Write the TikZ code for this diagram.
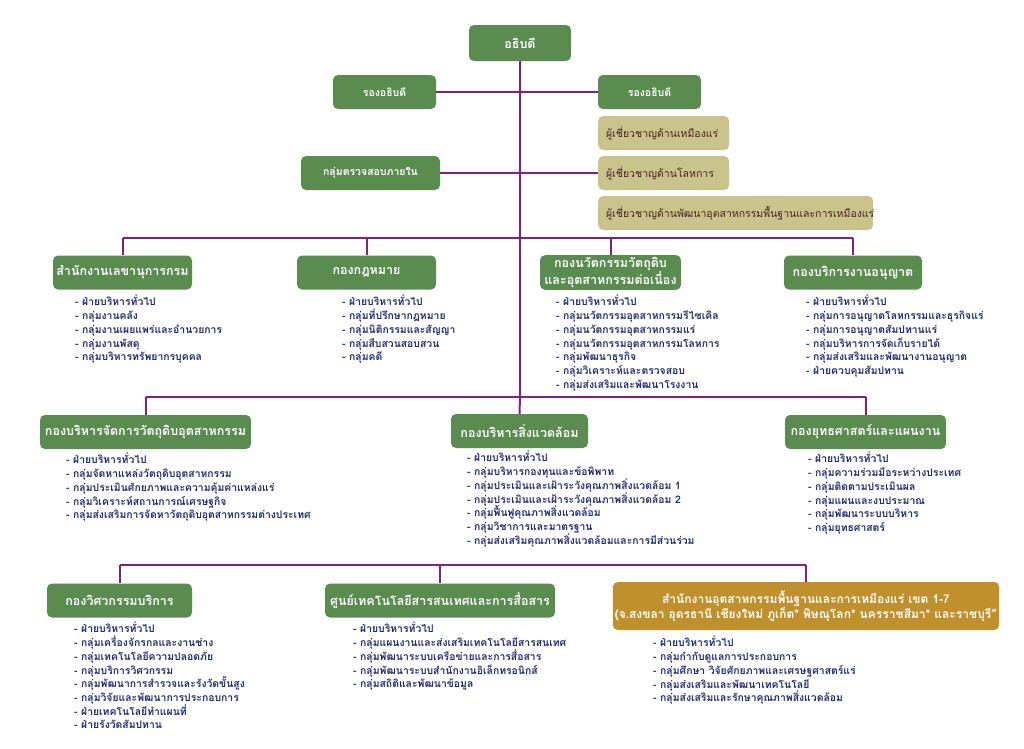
\documentclass[tikz,border=0pt]{standalone}
\usepackage{fontspec}
\setmainfont[Script=Thai]{Loma}
\definecolor{boxgreen}{RGB}{90,139,79}
\definecolor{khaki}{RGB}{201,196,140}
\definecolor{khtext}{RGB}{74,32,32}
\definecolor{goldbox}{RGB}{192,144,44}
\definecolor{linepurple}{RGB}{128,32,127}
\definecolor{navy}{RGB}{31,42,120}
\newcommand\tightlines{\lineskiplimit-20pt\relax\lineskip0pt\relax}
\begin{document}
\begin{tikzpicture}[x=1pt,y=-1pt,
  conn/.style={draw=linepurple,line width=2pt},
  gbox/.style={fill=boxgreen,rounded corners=5pt,text=white,inner sep=2pt,align=center,
    font=\bfseries\fontsize{12.5}{15}\selectfont,minimum height=34pt},
  kbox/.style={fill=khaki,rounded corners=5pt,text=khtext,inner sep=8pt,anchor=west,
    font=\fontsize{10.5}{12}\selectfont,minimum height=34pt,text width=#1,align=left},
  items/.style={anchor=north west,align=left,text=navy,inner sep=0pt,
    font=\bfseries\fontsize{10.4}{13.7}\selectfont\tightlines}
]
\fill[white] (0,0) rectangle (1024,748);
\useasboundingbox (0,0) rectangle (1024,748);

% bus coordinates
\coordinate (b1) at (0,238);
\coordinate (b2) at (0,397);
\coordinate (b3) at (0,565);

% top level
\node[gbox,minimum width=102pt,minimum height=36pt] (top) at (520,43) {อธิบดี};
\node[gbox,minimum width=103pt,font=\bfseries\fontsize{10.5}{12}\selectfont] (vpl) at (384.5,92) {รองอธิบดี};
\node[gbox,minimum width=103pt,font=\bfseries\fontsize{10.5}{12}\selectfont] (vpr) at (649.5,92) {รองอธิบดี};
\node[gbox,minimum width=139pt,font=\bfseries\fontsize{10.5}{12}\selectfont] (audit) at (370.5,173) {กลุ่มตรวจสอบภายใน};
\node[kbox=115pt] (exp1) at (598,133) {ผู้เชี่ยวชาญด้านเหมืองแร่};
\node[kbox=115pt] (exp2) at (598,173) {ผู้เชี่ยวชาญด้านโลหการ};
\node[kbox=259pt] (exp3) at (598,213) {ผู้เชี่ยวชาญด้านพัฒนาอุตสาหกรรมพื้นฐานและการเหมืองแร่};

% row 1
\node[gbox,minimum width=139pt] (sec) at (122.5,272.5) {สำนักงานเลขานุการกรม};
\node[gbox,minimum width=139pt] (law) at (366.5,272.5) {กองกฎหมาย};
\node[gbox,minimum width=141pt,font=\bfseries\fontsize{12.5}{14.5}\selectfont] (innov) at (610.5,272.5) {กองนวัตกรรมวัตถุดิบ\\และอุตสาหกรรมต่อเนื่อง};
\node[gbox,minimum width=138pt] (lic) at (853,272.5) {กองบริการงานอนุญาต};

\node[items] (secl) at (75,295) {\strut- ฝ่ายบริหารทั่วไป\\- กลุ่มงานคลัง\\- กลุ่มงานเผยแพร่และอำนวยการ\\- กลุ่มงานพัสดุ\\- กลุ่มบริหารทรัพยากรบุคคล};
\node[items] (lawl) at (342,295) {\strut- ฝ่ายบริหารทั่วไป\\- กลุ่มที่ปรึกษากฎหมาย\\- กลุ่มนิติกรรมและสัญญา\\- กลุ่มสืบสวนสอบสวน\\- กลุ่มคดี};
\node[items] (innovl) at (556,295) {\strut- ฝ่ายบริหารทั่วไป\\- กลุ่มนวัตกรรมอุตสาหกรรมรีไซเคิล\\- กลุ่มนวัตกรรมอุตสาหกรรมแร่\\- กลุ่มนวัตกรรมอุตสาหกรรมโลหการ\\- กลุ่มพัฒนาธุรกิจ\\- กลุ่มวิเคราะห์และตรวจสอบ\\- กลุ่มส่งเสริมและพัฒนาโรงงาน};
\node[items] (licl) at (806,295) {\strut- ฝ่ายบริหารทั่วไป\\- กลุ่มการอนุญาตโลหกรรมและธุรกิจแร่\\- กลุ่มการอนุญาตสัมปทานแร่\\- กลุ่มบริหารการจัดเก็บรายได้\\- กลุ่มส่งเสริมและพัฒนางานอนุญาต\\- ฝ่ายควบคุมสัมปทาน};

% row 2
\node[gbox,minimum width=211pt] (raw) at (145.5,432) {กองบริหารจัดการวัตถุดิบอุตสาหกรรม};
\node[gbox,minimum width=137pt] (env) at (519.5,431) {กองบริหารสิ่งแวดล้อม};
\node[gbox,minimum width=161pt] (strat) at (865.5,432) {กองยุทธศาสตร์และแผนงาน};

\node[items] (rawl) at (66,453) {\strut- ฝ่ายบริหารทั่วไป\\- กลุ่มจัดหาแหล่งวัตถุดิบอุตสาหกรรม\\- กลุ่มประเมินศักยภาพและความคุ้มค่าแหล่งแร่\\- กลุ่มวิเคราะห์สถานการณ์เศรษฐกิจ\\- กลุ่มส่งเสริมการจัดหาวัตถุดิบอุตสาหกรรมต่างประเทศ};
\node[items] (envl) at (467,451) {\strut- ฝ่ายบริหารทั่วไป\\- กลุ่มบริหารกองทุนและข้อพิพาท\\- กลุ่มประเมินและเฝ้าระวังคุณภาพสิ่งแวดล้อม 1\\- กลุ่มประเมินและเฝ้าระวังคุณภาพสิ่งแวดล้อม 2\\- กลุ่มฟื้นฟูคุณภาพสิ่งแวดล้อม\\- กลุ่มวิชาการและมาตรฐาน\\- กลุ่มส่งเสริมคุณภาพสิ่งแวดล้อมและการมีส่วนร่วม};
\node[items] (stratl) at (808,452) {\strut- ฝ่ายบริหารทั่วไป\\- กลุ่มความร่วมมือระหว่างประเทศ\\- กลุ่มติดตามประเมินผล\\- กลุ่มแผนและงบประมาณ\\- กลุ่มพัฒนาระบบบริหาร\\- กลุ่มยุทธศาสตร์};

% row 3
\node[gbox,minimum width=145pt] (eng) at (119.5,600.5) {กองวิศวกรรมบริการ};
\node[gbox,minimum width=230pt] (ict) at (440,600.5) {ศูนย์เทคโนโลยีสารสนเทศและการสื่อสาร};
\node[gbox,fill=goldbox,minimum width=386pt,minimum height=48pt,font=\bfseries\fontsize{12}{14}\selectfont] (gold) at (806,606) {สำนักงานอุตสาหกรรมพื้นฐานและการเหมืองแร่ เขต 1-7\\(จ.สงขลา อุดรธานี เชียงใหม่ ภูเก็ต* พิษณุโลก* นครราชสีมา* และราชบุรี"};

\node[items] (engl) at (74,622) {\strut- ฝ่ายบริหารทั่วไป\\- กลุ่มเครื่องจักรกลและงานช่าง\\- กลุ่มเทคโนโลยีความปลอดภัย\\- กลุ่มบริการวิศวกรรม\\- กลุ่มพัฒนาการสำรวจและรังวัดขั้นสูง\\- กลุ่มวิจัยและพัฒนาการประกอบการ\\- ฝ่ายเทคโนโลยีทำแผนที่\\- ฝ่ายรังวัดสัมปทาน};
\node[items] (ictl) at (353,622) {\strut- ฝ่ายบริหารทั่วไป\\- กลุ่มแผนงานและส่งเสริมเทคโนโลยีสารสนเทศ\\- กลุ่มพัฒนาระบบเครือข่ายและการสื่อสาร\\- กลุ่มพัฒนาระบบสำนักงานอิเล็กทรอนิกส์\\- กลุ่มสถิติและพัฒนาข้อมูล};
\node[items] (goldl) at (653,636) {\strut- ฝ่ายบริหารทั่วไป\\- กลุ่มกำกับดูแลการประกอบการ\\- กลุ่มศึกษา วิจัยศักยภาพและเศรษฐศาสตร์แร่\\- กลุ่มส่งเสริมและพัฒนาเทคโนโลยี\\- กลุ่มส่งเสริมและรักษาคุณภาพสิ่งแวดล้อม};

% connectors
\draw[conn] (top.south) -- (top.south |- b1) -- (top.south |- b2) -- (env.north);
\draw[conn] (vpl.east) -- (vpr.west);
\draw[conn] (audit.east) -- (exp2.west);
\draw[conn] (sec.north |- b1) -- (lic.north |- b1);
\draw[conn] (sec.north |- b1) -- (sec.north);
\draw[conn] (law.north |- b1) -- (law.north);
\draw[conn] (innov.north |- b1) -- (innov.north);
\draw[conn] (lic.north |- b1) -- (lic.north);
\draw[conn] (raw.north |- b2) -- (strat.north |- b2);
\draw[conn] (raw.north |- b2) -- (raw.north);
\draw[conn] (strat.north |- b2) -- (strat.north);
\draw[conn] (eng.north |- b3) -- (gold.north |- b3);
\draw[conn] (eng.north |- b3) -- (eng.north);
\draw[conn] (ict.north |- b3) -- (ict.north);
\draw[conn] (gold.north |- b3) -- (gold.north);
\end{tikzpicture}
\end{document}
